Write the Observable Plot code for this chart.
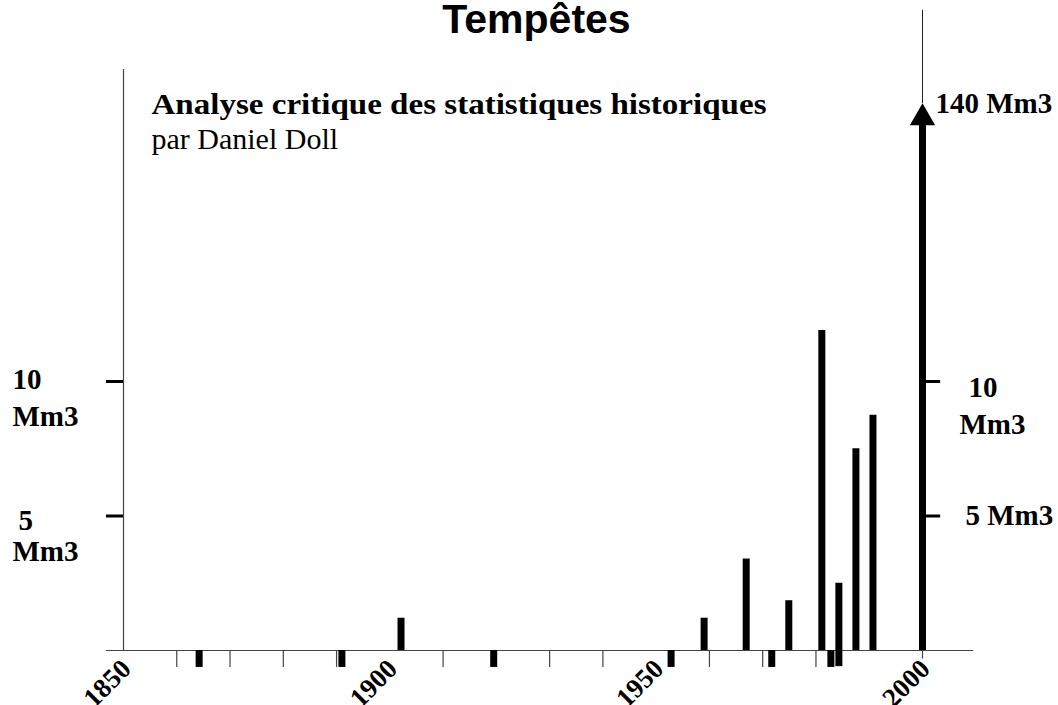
<!DOCTYPE html>
<html>
<head>
<meta charset="utf-8">
<script src="https://cdn.jsdelivr.net/npm/d3@7"></script>
<script src="https://cdn.jsdelivr.net/npm/@observablehq/plot@0.6"></script>
<style>
  html, body { margin: 0; padding: 0; background: #fff; }
  #chart svg { display: block; }
</style>
</head>
<body>
<div id="chart"></div>
<script>
// ---- Data ----
const title = "Tempêtes";
const subtitle = "Analyse critique des statistiques historiques";
const author = "par Daniel Doll";

// Storm years with known volume (Mm3) drawn as bars above the axis
const stormYears  = [1902.1, 1959.0, 1966.9, 1974.9, 1981.1, 1984.3, 1987.5, 1990.7];
const stormVolume = [1.2,    1.2,    3.4,    1.85,   11.9,   2.5,    7.5,    8.75];

// Exceptional storm (off-scale, drawn as an arrow)
const bigStormYear = 2000;
const bigStormVolume = 140;
const bigStormLabel = "140 Mm3";

// Minor storms, drawn as short marks below the axis
const minorStormYears = [1864.2, 1891.0, 1919.5, 1952.8, 1971.7, 1982.8, 1984.3];
const minorStormDepth = [0.63,   0.63,   0.63,   0.63,   0.63,   0.63,   0.6];

// Axis
const xTickLabels = [1850, 1900, 1950, 2000];
const xMinorTicks = [1860, 1870, 1880, 1890, 1910, 1920, 1930, 1940, 1960, 1970, 1980];
const yTicks = [5, 10];
const yUnit = "Mm3";

// Extents of the drawn axes (in data units)
const xStart = 1850, xEnd = 2000;
const xAxisFrom = 1846.8, xAxisTo = 2009.6;
const leftAxisTop = 21.6;
const rightAxisTop = 23.8;
const arrowTip = 20.33;
const arrowShaftTop = 19.6;
const arrowHeadCenter = 19.8;
const tickDepth = -0.63;

// ---- Build tables ----
const storms = stormYears.map((y, i) => ({year: y, volume: stormVolume[i]}));
const minor = minorStormYears.map((y, i) => ({year: y, volume: -minorStormDepth[i]}));

const serif = "Liberation Serif, Times New Roman, serif";
const sans = "Liberation Sans, Arial, sans-serif";
const lbl = {textAnchor: "start", lineAnchor: "bottom", fontFamily: serif, fontWeight: "bold", fontSize: 29, fill: "#000"};

const chart = Plot.plot({
  width: 1058,
  height: 705,
  margin: 0,
  x: {domain: [xStart, xEnd], range: [123, 922], axis: null},
  y: {domain: [0, 10], range: [650, 381], axis: null},
  marks: [
    // left vertical axis
    Plot.ruleX([xStart], {y1: 0, y2: leftAxisTop, stroke: "#444", strokeWidth: 1.2}),
    // right thin vertical line above the arrow
    Plot.ruleX([bigStormYear], {y1: arrowTip, y2: rightAxisTop, stroke: "#222", strokeWidth: 1}),
    // horizontal axis
    Plot.ruleY([0], {x1: xAxisFrom, x2: xAxisTo, stroke: "#444", strokeWidth: 1.2}),
    // minor ticks under the axis
    Plot.ruleX(xMinorTicks, {y1: 0, y2: tickDepth, stroke: "#444", strokeWidth: 1.2}),
    Plot.ruleX([xEnd], {y1: 0, y2: tickDepth / 2, stroke: "#444", strokeWidth: 1.2}),
    // y ticks, left and right
    Plot.ruleY(yTicks, {x1: xAxisFrom, x2: xStart, stroke: "#000", strokeWidth: 3}),
    Plot.ruleY(yTicks, {x1: xEnd, x2: 2003.4, stroke: "#000", strokeWidth: 3}),
    // bars
    Plot.ruleX(storms, {x: "year", y1: 0, y2: "volume", stroke: "#000", strokeWidth: 7}),
    Plot.ruleX(minor, {x: "year", y1: 0, y2: "volume", stroke: "#000", strokeWidth: 7}),
    // big storm arrow
    Plot.ruleX([bigStormYear], {y1: 0, y2: arrowShaftTop, stroke: "#000", strokeWidth: 7}),
    Plot.dot([bigStormYear], {x: d => d, y: arrowHeadCenter, symbol: "triangle", r: 9.4, fill: "#000", stroke: "none"}),
    Plot.text([bigStormLabel], {...lbl, x: bigStormYear, y: arrowTip, text: d => d, dx: 13, dy: 9}),
    // x tick labels
    Plot.text(xTickLabels, {x: d => d, y: 0, text: d => String(d), rotate: -45, textAnchor: "end", lineAnchor: "bottom", dx: 9, dy: 20, fontFamily: serif, fontWeight: "bold", fontSize: 27, fill: "#000"}),
    // left y labels
    Plot.text([10], {...lbl, x: xStart, y: d => d, text: d => String(d), dx: -111, dy: 7}),
    Plot.text([10], {...lbl, x: xStart, y: d => d, text: () => yUnit, dx: -111, dy: 44}),
    Plot.text([5], {...lbl, x: xStart, y: d => d, text: d => String(d), dx: -105, dy: 14}),
    Plot.text([5], {...lbl, x: xStart, y: d => d, text: () => yUnit, dx: -111, dy: 45}),
    // right y labels
    Plot.text([10], {...lbl, x: xEnd, y: d => d, text: d => String(d), dx: 46, dy: 15}),
    Plot.text([10], {...lbl, x: xEnd, y: d => d, text: () => yUnit, dx: 37, dy: 52}),
    Plot.text([5], {...lbl, x: xEnd, y: d => d, text: d => `${d} ${yUnit}`, dx: 43, dy: 9}),
    // title and subtitles
    Plot.text([title], {frameAnchor: "top-left", text: d => d, dx: 536, dy: 32, textAnchor: "middle", lineAnchor: "bottom", fontFamily: sans, fontWeight: "bold", fontSize: 41, fill: "#000"}),
    Plot.text([subtitle], {frameAnchor: "top-left", text: d => d, dx: 151, dy: 113, textAnchor: "start", lineAnchor: "bottom", fontFamily: serif, fontWeight: "bold", fontSize: 30, fill: "#000"}),
    Plot.text([author], {frameAnchor: "top-left", text: d => d, dx: 151, dy: 148, textAnchor: "start", lineAnchor: "bottom", fontFamily: serif, fontWeight: "normal", fontSize: 30, fill: "#000"})
  ]
});
document.getElementById("chart").appendChild(chart);

// The reference's bold subtitle is set a little wider than the font's natural width
d3.select(chart).selectAll("text").filter(function () { return this.textContent === subtitle; })
  .attr("textLength", 615).attr("lengthAdjust", "spacingAndGlyphs");
</script>
</body>
</html>
